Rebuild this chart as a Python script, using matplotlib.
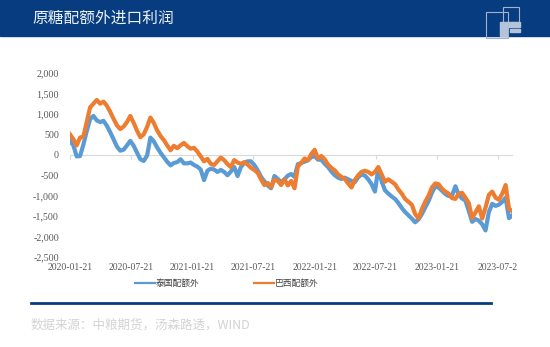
import numpy as np
import pandas as pd
import matplotlib.pyplot as plt
import matplotlib.dates as mdates
from matplotlib.patches import Rectangle
from matplotlib.lines import Line2D

plt.rcParams['font.family'] = ['Noto Sans CJK SC', 'DejaVu Sans']

# 10-day sampling of the daily spreads, 2020-01-21 .. 2023-09-01
dates = pd.date_range('2020-01-21', periods=133, freq='10D')

# 巴西配额外 (Brazil, out-of-quota import profit, yuan/t)
brazil = [
    500, 380, 230, 420, 450, 800, 1160, 1250, 1340, 1250,
    1300, 1200, 1050, 880, 720, 630, 690, 800, 950, 780,
    590, 430, 500, 680, 910, 780, 600, 460, 360, 230,
    110, 220, 160, 230, 290, 210, 150, 170, 80, -40,
    -160, -100, -220, -250, -160, -70, -130, -230, -300, -130,
    -190, -220, -180, -240, -320, -370, -440, -600, -740, -690,
    -790, -610, -640, -740, -600, -750, -640, -820, -290, -200,
    -90, -140, 20, 120, -90, -30, -110, -240, -320, -380,
    -480, -540, -590, -700, -800, -620, -500, -420, -390, -420,
    -480, -420, -300, -480, -660, -600, -660, -720, -850, -950,
    -1080, -1150, -1220, -1450, -1560, -1330, -1150, -1000, -800, -700,
    -720, -830, -900, -950, -1060, -1080, -950, -930, -1050, -1180,
    -1550, -1410, -1260, -1560, -1290, -980, -900, -1050, -1100, -950,
    -740, -1320, -1380,
]

# 泰国配额外 (Thailand)
thailand = [
    340, 230, -40, -30, 250, 580, 875, 950, 840, 800,
    830, 710, 550, 380, 200, 100, 125, 230, 340, 220,
    50, -110, -150, -20, 420, 330, 180, 50, -60, -170,
    -260, -200, -180, -110, -210, -210, -190, -250, -290, -360,
    -620, -390, -340, -360, -420, -370, -420, -500, -410, -300,
    -520, -300, -200, -160, -160, -250, -380, -540, -650, -750,
    -820, -520, -590, -670, -600, -510, -470, -540, -230, -200,
    -170, -130, -60, -30, -120, -120, -220, -300, -410, -500,
    -560, -590, -560, -600, -640, -670, -550, -480, -510, -600,
    -720, -900, -330, -650, -870, -950, -1020, -1080, -1180, -1300,
    -1400, -1480, -1560, -1650, -1580, -1450, -1290, -1130, -930, -770,
    -800, -880, -960, -1010, -1000, -770, -980, -1070, -1120, -1370,
    -1640, -1570, -1610, -1700, -1850, -1400, -1200, -1250, -1220, -1150,
    -1050, -1550, -1480,
]

tick_dates = ['2020-01-21', '2020-07-21', '2021-01-21', '2021-07-21',
              '2022-01-21', '2022-07-21', '2023-01-21', '2023-07-21']
tick_labels = ['2020-01-21', '2020-07-21', '2021-01-21', '2021-07-21',
               '2022-01-21', '2022-07-21', '2023-01-21', '2023-07-2']
yticks = [2000, 1500, 1000, 500, 0, -500, -1000, -1500, -2000, -2500]

blue = '#5b9bd5'
orange = '#ed7d31'
navy = '#073d80'
W, H = 550, 347

fig = plt.figure(figsize=(5.5, 3.47), dpi=100)

# header band with title
fig.patches.append(Rectangle((0, 1 - 36 / H), 1, 36 / H, transform=fig.transFigure,
                             color=navy, zorder=0))
fig.text(32 / W, 1 - 18 / H, '原糖配额外进口利润', color='#eef2f8', fontsize=11.3,
         va='center', ha='left')

# small logo at the right of the header
def px_rect(x0, y0, x1, y1, **kw):
    fig.patches.append(Rectangle((x0 / W, 1 - y1 / H), (x1 - x0) / W, (y1 - y0) / H,
                                 transform=fig.transFigure, **kw))

px_rect(486, 12, 508, 38, fill=False, edgecolor='#9fb3cf', lw=0.8)
px_rect(503, 7, 519, 22, fill=False, edgecolor='#9fb3cf', lw=0.8)
px_rect(500, 22, 507, 36, color='#b4c3da')
px_rect(507, 22, 520, 27, color='#b4c3da')
px_rect(510, 29, 520, 32, color='#b4c3da')

# main chart
ax = fig.add_axes([70 / W, 1 - 257 / H, 442 / W, 184 / H])
x = mdates.date2num(dates)
ax.plot(x, thailand, color=blue, lw=3.0)
ax.plot(x, brazil, color=orange, lw=3.0)

ax.set_xlim(mdates.date2num(pd.Timestamp('2020-01-21')),
            mdates.date2num(pd.Timestamp('2023-09-01')))
ax.set_ylim(-2500, 2000)

for s in ['top', 'right', 'left']:
    ax.spines[s].set_visible(False)
ax.spines['bottom'].set_position(('data', 0))
ax.spines['bottom'].set_color('#d9d9d9')
ax.spines['bottom'].set_zorder(0)

tx = [mdates.date2num(pd.Timestamp(d)) for d in tick_dates]
ax.set_xticks(tx)
ax.tick_params(axis='x', length=3, color='#d9d9d9', labelbottom=False)
for t, lab in zip(tx, tick_labels):
    ax.text(t, -0.055, lab, transform=ax.get_xaxis_transform(), ha='center',
            va='center', fontsize=7, color='#595959', family='Liberation Serif',
            clip_on=False)

ax.set_yticks(yticks)
ax.set_yticklabels([f'{v:,}' for v in yticks], family='Liberation Serif',
                   fontsize=7.2, color='#595959')
ax.tick_params(axis='y', length=0, pad=8)

# legend
ly = 1 - 283 / H
fig.lines.append(Line2D([135 / W, 155 / W], [ly, ly], color=blue, lw=1.6,
                        transform=fig.transFigure))
fig.text(156 / W, ly, '泰国配额外', fontsize=6.3, color='#404040', va='center')
fig.lines.append(Line2D([254 / W, 274 / W], [ly, ly], color=orange, lw=1.6,
                        transform=fig.transFigure))
fig.text(275 / W, ly, '巴西配额外', fontsize=6.3, color='#404040', va='center')

# footer rule and source
fig.lines.append(Line2D([31 / W, 491 / W], [1 - 303 / H, 1 - 303 / H], color=navy,
                        lw=2.0, transform=fig.transFigure))
fig.text(31 / W, 1 - 325 / H, '数据来源：中粮期货，汤森路透，WIND', fontsize=9,
         color='#d3d3d3', va='center')

fig.savefig('out.png', dpi=100)
